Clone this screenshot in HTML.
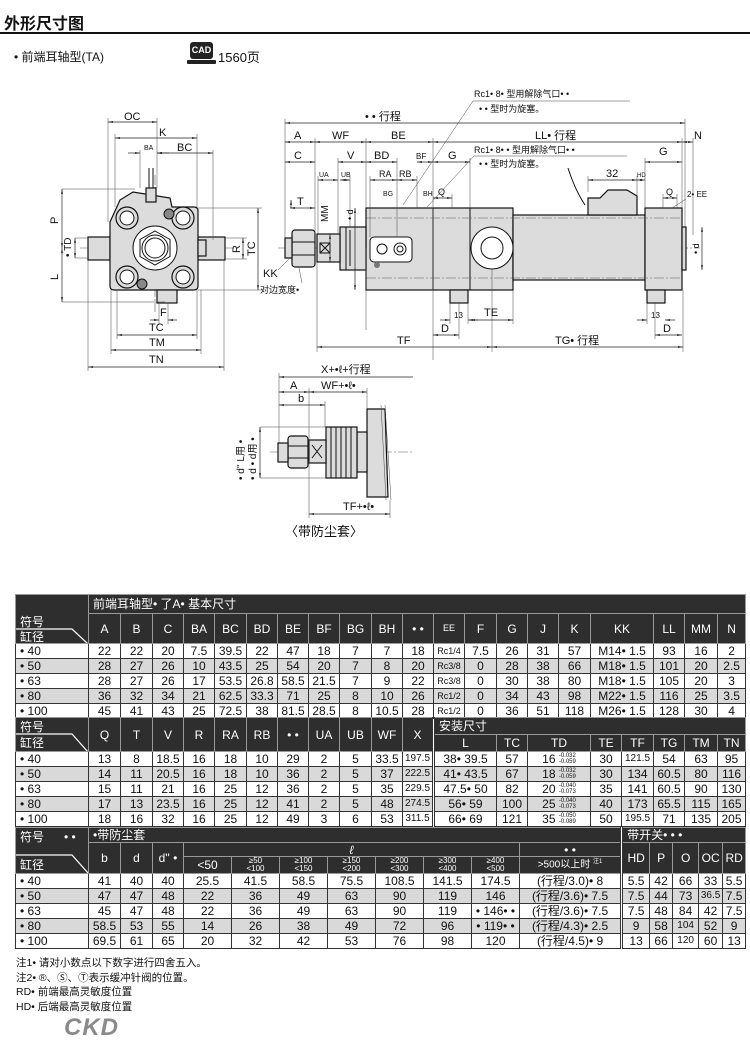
<!DOCTYPE html>
<html><head><meta charset="utf-8">
<style>
body{margin:0;width:750px;height:1053px;background:#fff;position:relative;overflow:hidden;font-family:"Liberation Sans","Noto Sans CJK SC",sans-serif;color:#111}
svg{position:absolute;left:0;top:0}
.t{position:absolute;white-space:nowrap}
table{position:absolute;left:15px;width:730px;border-collapse:collapse;table-layout:fixed;font-size:12px;font-family:"Liberation Sans","Noto Sans CJK SC",sans-serif}
td{padding:0;text-align:center;border:1px solid #333;overflow:hidden;white-space:nowrap;line-height:1}
td.h{background:#2e2e2e;color:#fff;border-color:#999}
td.l{text-align:left;padding-left:4px}
tr.g td{background:#d9d9d9}
tr.r td{height:14px}
td.lab{position:relative;background:#2e2e2e;color:#fff;border-color:#999}
td.lab i{font-style:normal;position:absolute;left:4px;font-size:12px}
td.lab svg{position:absolute;left:0;top:0}
.dl{border-left:3px double #333!important}
.tol{display:inline-block;font-size:6px;line-height:6px;vertical-align:middle;text-align:left}
.sm{font-size:8px;line-height:8px}
</style></head><body>

<div class="t" style="left:4px;top:10px;font-size:16px;font-weight:bold">外形尺寸图</div>
<div style="position:absolute;left:0;top:32px;width:750px;height:2px;background:#111"></div>
<div class="t" style="left:14px;top:48px;font-size:12px">• 前端耳轴型(TA)</div>
<div style="position:absolute;left:190px;top:42px;width:23px;height:17px;background:#222;border-radius:3px;color:#fff;font-size:9px;font-weight:bold;text-align:center;line-height:17px">CAD</div>
<div style="position:absolute;left:187px;top:60px;width:29px;height:4px;background:#222;border-radius:1px"></div>
<div class="t" style="left:218px;top:47px;font-size:13px">1560页</div>

<svg width="750" height="590" viewBox="0 0 750 590" font-family="Liberation Sans, Noto Sans CJK SC, sans-serif" font-size="11">
<defs>
<marker id="a" viewBox="0 0 10 10" refX="10" refY="5" markerWidth="7" markerHeight="7" orient="auto-start-reverse"><path d="M0,3L10,5L0,7z" fill="#222"/></marker>
</defs>
<style>
.d{stroke:#222;stroke-width:.7;marker-start:url(#a);marker-end:url(#a);fill:none}
.e{stroke:#444;stroke-width:.5;fill:none}
.c{stroke:#555;stroke-width:.6;stroke-dasharray:10 2 2 2;fill:none}
.b{stroke:#111;stroke-width:1.2;fill:#dcdcdc}
.w{stroke:#111;stroke-width:1;fill:#fff}
.k{stroke:#111;stroke-width:1;fill:none}
text{fill:#111}
</style>

<!-- FRONT VIEW -->
<line class="c" x1="80" y1="248" x2="235" y2="248"/>
<line class="c" x1="155" y1="175" x2="155" y2="312"/>
<rect class="b" x="88" y="237" width="22" height="23"/>
<rect class="b" x="198" y="237" width="27" height="23"/>
<path class="b" d="M110,222 L120,200 L133,192 L170,198 L172,207 L194,207 Q198,207 198,211 L198,286 Q198,290 194,290 L114,290 Q110,290 110,286 Z"/>
<rect class="b" x="146" y="188" width="10" height="14"/>
<path class="k" d="M149,188 L149,168 M153,188 L153,168"/>
<rect class="b" x="157" y="290" width="20" height="13"/>
<rect class="b" x="198" y="240" width="8" height="16"/>
<circle class="w" cx="155" cy="248" r="22" fill="#dcdcdc"/>
<polygon class="k" points="155,231 170,239.5 170,256.5 155,265 140,256.5 140,239.5"/>
<circle class="w" cx="155" cy="248" r="13"/>
<circle class="k" cx="155" cy="248" r="10"/>
<g class="b"><circle cx="127" cy="218" r="11"/><circle cx="183" cy="218" r="11"/><circle cx="127" cy="277" r="11"/><circle cx="183" cy="277" r="11"/></g>
<g class="w"><circle cx="127" cy="218" r="7"/><circle cx="183" cy="218" r="7"/><circle cx="127" cy="277" r="7"/><circle cx="183" cy="277" r="7"/></g>
<circle cx="169" cy="214" r="5" fill="#888" stroke="#111"/>
<circle cx="142" cy="284" r="5" fill="#888" stroke="#111"/>
<!-- front dims -->
<path class="e" d="M108,118 V222 M157,118 V188 M115,134 V207 M197,134 V207 M140,150 V188 M213,150 V240 M62,189 H135 M62,302 H165 M198,208 H262 M198,290 H262 M225,238 H247 M225,259 H247 M117,290 V339 M197,290 V339 M111,290 V354 M201,290 V354 M88,260 V371 M224,260 V371 M159,303 V324 M168,303 V324 M75,238 H88 M75,258 H88"/>
<line class="d" x1="108" y1="122" x2="157" y2="122"/><text x="124" y="120">OC</text>
<line class="d" x1="115" y1="138" x2="197" y2="138"/><text x="159" y="136">K</text>
<line class="d" x1="128" y1="153" x2="140" y2="153" style="marker-start:none"/><line class="d" x1="169" y1="153" x2="157" y2="153" style="marker-start:none"/>
<text x="144" y="150" font-size="7">BA</text>
<line class="d" x1="157" y1="153" x2="213" y2="153"/><text x="177" y="151">BC</text>
<line class="d" x1="62" y1="189" x2="62" y2="248"/><text transform="translate(58,224) rotate(-90)">P</text>
<line class="d" x1="62" y1="248" x2="62" y2="302"/><text transform="translate(58,280) rotate(-90)">L</text>
<line class="d" x1="75" y1="238" x2="75" y2="258"/><text transform="translate(71,257) rotate(-90)" font-size="10">• TD</text>
<line class="d" x1="243" y1="238" x2="243" y2="259"/><text transform="translate(240,253) rotate(-90)">R</text>
<line class="d" x1="258" y1="208" x2="258" y2="290"/><text transform="translate(255,256) rotate(-90)">TC</text>
<line class="d" x1="150" y1="320" x2="159" y2="320" style="marker-start:none"/><line class="d" x1="177" y1="320" x2="168" y2="320" style="marker-start:none"/><text x="160" y="316">F</text>
<line class="d" x1="117" y1="335" x2="197" y2="335"/><text x="149" y="331">TC</text>
<line class="d" x1="111" y1="350" x2="201" y2="350"/><text x="149" y="346">TM</text>
<line class="d" x1="88" y1="367" x2="224" y2="367"/><text x="149" y="363">TN</text>

<!-- SIDE VIEW -->
<line class="c" x1="278" y1="248" x2="700" y2="248"/>
<rect class="b" x="366" y="208" width="147" height="82"/>
<line class="k" x1="433" y1="208" x2="433" y2="290"/>
<line class="k" x1="470" y1="208" x2="470" y2="290"/>
<rect class="b" x="513" y="215" width="132" height="65"/>
<rect class="b" x="645" y="208" width="37" height="82"/>
<rect class="b" x="682" y="227" width="4" height="43"/>
<path class="c" d="M366,218 H682 M366,278 H682"/>
<circle class="w" cx="492" cy="248" r="21" fill="#dcdcdc"/>
<circle class="w" cx="492" cy="248" r="11"/>
<path class="b" d="M588,215 V198 L600,198 L608,190 L627,190 L637,196 L637,215 Z"/>
<path class="k" d="M568,168 Q575,190 585,205" stroke-width="3"/>
<rect class="w" x="370" y="237" width="42" height="25" rx="4" fill="#dcdcdc"/>
<circle class="w" cx="382" cy="249" r="5"/><circle class="w" cx="400" cy="249" r="6"/><circle class="k" cx="400" cy="249" r="3"/>
<circle cx="377" cy="265" r="3" fill="#777"/>
<rect class="b" x="450" y="290" width="18" height="13"/>
<rect class="b" x="647" y="290" width="18" height="13"/>
<rect class="b" x="340" y="227" width="26" height="43"/>
<path class="k" d="M346,227 V270 M350,230 V266"/>
<rect class="b" x="317" y="234" width="23" height="28"/>
<path class="k" d="M320,243 L330,253 M330,243 L320,253 M320,243 H330 V253 H320 Z"/>
<rect class="b" x="292" y="230" width="23" height="37" rx="3"/>
<path class="k" d="M292,242 H315 M292,255 H315"/>
<rect class="b" x="285" y="238" width="7" height="20"/>
<!-- side dims -->
<path class="e" d="M285,119 V238 M685,119 V227 M315,138 V234 M366,138 V208 M433,138 V360 M682,138 V208 M693,138 V235 M338,158 V234 M397,158 V237 M417,176 V208 M470,158 V208 M645,158 V208 M318,176 V234 M350,176 V227 M370,176 V237 M588,176 V192 M637,176 V196 M452,194 V208 M663,194 V208 M677,194 V208 M450,303 V324 M468,303 V324 M459,303 V339 M513,290 V324 M655,303 V339 M647,303 V324 M317,262 V352 M492,269 V352 M683,290 V352 M366,248 V330"/>
<line class="d" x1="285" y1="123" x2="685" y2="123"/><text x="365" y="120">• • 行程</text>
<line class="d" x1="285" y1="142" x2="315" y2="142"/><text x="294" y="139">A</text>
<line class="d" x1="315" y1="142" x2="366" y2="142"/><text x="332" y="139">WF</text>
<line class="d" x1="366" y1="142" x2="433" y2="142"/><text x="391" y="139">BE</text>
<line class="d" x1="433" y1="142" x2="682" y2="142"/><text x="535" y="139">LL• 行程</text>
<line class="d" x1="682" y1="142" x2="693" y2="142"/><text x="694" y="139">N</text>
<line class="d" x1="285" y1="162" x2="315" y2="162"/><text x="294" y="159">C</text>
<line class="d" x1="338" y1="162" x2="366" y2="162"/><text x="347" y="159">V</text>
<line class="d" x1="366" y1="162" x2="397" y2="162"/><text x="374" y="159">BD</text>
<line class="d" x1="417" y1="162" x2="433" y2="162"/><text x="416" y="159" font-size="8">BF</text>
<line class="d" x1="433" y1="162" x2="470" y2="162"/><text x="448" y="159">G</text>
<line class="d" x1="645" y1="162" x2="682" y2="162"/><text x="659" y="155">G</text>
<line class="d" x1="318" y1="180" x2="338" y2="180"/><text x="319" y="177" font-size="7">UA</text>
<line class="d" x1="340" y1="180" x2="350" y2="180"/><text x="341" y="177" font-size="7">UB</text>
<line class="d" x1="370" y1="180" x2="397" y2="180"/><text x="379" y="177" font-size="9">RA</text>
<line class="d" x1="397" y1="180" x2="417" y2="180"/><text x="399" y="177" font-size="9">RB</text>
<line class="d" x1="588" y1="180" x2="637" y2="180"/><text x="606" y="177">32</text>
<line class="d" x1="637" y1="180" x2="645" y2="180"/><text x="637" y="177" font-size="6">HD</text>
<line class="d" x1="433" y1="198" x2="452" y2="198"/><text x="438" y="195" font-size="9">Q</text>
<line class="d" x1="663" y1="198" x2="677" y2="198"/><text x="666" y="195" font-size="9">Q</text>
<text x="687" y="197" font-size="8">2• EE</text>
<line class="e" x1="686" y1="199" x2="672" y2="208"/>
<text x="383" y="196" font-size="7">BG</text><text x="423" y="196" font-size="7">BH</text>
<line class="d" x1="291" y1="208" x2="291" y2="200" style="marker-start:none"/>
<line class="d" x1="290" y1="208" x2="315" y2="208"/><text x="297" y="205">T</text>
<line class="d" x1="330" y1="234" x2="330" y2="262"/><text transform="translate(328,222) rotate(-90)" font-size="10">MM</text>
<line class="d" x1="355" y1="208" x2="355" y2="290"/><text transform="translate(353,220) rotate(-90)" font-size="9">• d</text>
<line class="d" x1="702" y1="227" x2="702" y2="270"/><text transform="translate(699,254) rotate(-90)" font-size="9">• d</text>
<line class="d" x1="433" y1="335" x2="459" y2="335"/><text x="441" y="332">D</text>
<line class="d" x1="655" y1="335" x2="682" y2="335"/><text x="663" y="332">D</text>
<line class="d" x1="440" y1="320" x2="450" y2="320" style="marker-start:none"/><line class="d" x1="478" y1="320" x2="468" y2="320" style="marker-start:none"/><text x="454" y="318" font-size="8">13</text>
<line class="d" x1="637" y1="320" x2="647" y2="320" style="marker-start:none"/><line class="d" x1="675" y1="320" x2="665" y2="320" style="marker-start:none"/><text x="651" y="318" font-size="8">13</text>
<line class="d" x1="470" y1="320" x2="513" y2="320"/><text x="484" y="316">TE</text>
<line class="d" x1="317" y1="347" x2="492" y2="347"/><text x="397" y="344">TF</text>
<line class="d" x1="492" y1="347" x2="683" y2="347"/><text x="555" y="344">TG• 行程</text>
<text x="474" y="97" font-size="9">Rc1• 8• 型用解除气口• •</text>
<text x="479" y="112" font-size="9">• • 型时为旋塞。</text>
<path class="e" d="M473,101 H630 M473,101 L403,205"/>
<text x="474" y="153" font-size="9">Rc1• 8• • 型用解除气口• •</text>
<text x="479" y="167" font-size="9">• • 型时为旋塞。</text>
<path class="e" d="M474,156 H627 M474,156 L427,207"/>
<text x="263" y="277">KK</text>
<path class="e" d="M278,270 L290,258 M299,268 L302,283"/>
<text x="260" y="293" font-size="9">对边宽度•</text>

<!-- BOTTOM DETAIL -->
<line class="c" x1="270" y1="452" x2="412" y2="452"/>
<path class="b" d="M367,409 H385 L388,497 H367 Z"/>
<path class="e" d="M381,405 L386,500 M385,405 L391,500"/>
<rect class="b" x="357" y="432" width="10" height="40"/>
<rect class="b" x="326" y="427" width="31" height="51"/>
<path class="k" d="M331,427 V478 M336,427 V478 M341,427 V478 M346,427 V478 M351,427 V478"/>
<rect class="b" x="309" y="440" width="17" height="23"/>
<path class="k" d="M312,445 L322,458 M322,445 L312,458"/>
<rect class="b" x="288" y="436" width="20" height="32" rx="3"/>
<path class="k" d="M288,446 H308 M288,458 H308"/>
<rect class="b" x="278" y="443" width="10" height="19"/>
<path class="e" d="M279,373 V443 M309,388 V518 M367,388 V409 M325,401 V427 M260,427 H326 M260,478 H326 M390,500 V518"/>
<line class="d" x1="279" y1="377" x2="413" y2="377" style="marker-end:none"/><text x="321" y="373">X+•ℓ+行程</text>
<line class="d" x1="279" y1="392" x2="309" y2="392"/><text x="290" y="389">A</text>
<line class="d" x1="309" y1="392" x2="367" y2="392"/><text x="321" y="389">WF+•ℓ•</text>
<line class="d" x1="279" y1="405" x2="325" y2="405"/><text x="298" y="402">b</text>
<line class="d" x1="260" y1="427" x2="260" y2="478"/>
<text transform="translate(256,480) rotate(-90)" font-size="10">• d • d用 •</text>
<text transform="translate(244,480) rotate(-90)" font-size="10">• d'' L用 •</text>
<line class="d" x1="309" y1="514" x2="390" y2="514"/><text x="343" y="510">TF+•ℓ•</text>
<text x="285" y="536" font-size="13">〈带防尘套〉</text>
</svg>

<!-- TABLE 1 -->
<table style="top:594px">
<colgroup><col style="width:73px"><col style="width:32px"><col style="width:32px"><col style="width:31px"><col style="width:31px"><col style="width:32px"><col style="width:31px"><col style="width:31px"><col style="width:31px"><col style="width:32px"><col style="width:31px"><col style="width:31px"><col style="width:31px"><col style="width:32px"><col style="width:31px"><col style="width:31px"><col style="width:32px"><col style="width:63px"><col style="width:31px"><col style="width:33px"><col style="width:28px"></colgroup>
<tr style="height:19px"><td class="lab" rowspan="2"><i style="top:21px">符号</i><i style="top:36px">缸径</i><svg width="73" height="50"><path d="M0,34 H56 L72,49" stroke="#fff" stroke-width="1.2" fill="none"/></svg></td><td class="h l" colspan="20">前端耳轴型• 了A• 基本尺寸</td></tr>
<tr style="height:30px"><td class="h">A</td><td class="h">B</td><td class="h">C</td><td class="h">BA</td><td class="h">BC</td><td class="h">BD</td><td class="h">BE</td><td class="h">BF</td><td class="h">BG</td><td class="h">BH</td><td class="h">• •</td><td class="h" style="font-size:9px">EE</td><td class="h">F</td><td class="h">G</td><td class="h">J</td><td class="h">K</td><td class="h">KK</td><td class="h">LL</td><td class="h">MM</td><td class="h">N</td></tr>
<tr class="r"><td class="l">• 40</td><td>22</td><td>22</td><td>20</td><td>7.5</td><td>39.5</td><td>22</td><td>47</td><td>18</td><td>7</td><td>7</td><td>18</td><td style="font-size:9px">Rc1/4</td><td>7.5</td><td>26</td><td>31</td><td>57</td><td>M14• 1.5</td><td>93</td><td>16</td><td>2</td></tr>
<tr class="r g"><td class="l">• 50</td><td>28</td><td>27</td><td>26</td><td>10</td><td>43.5</td><td>25</td><td>54</td><td>20</td><td>7</td><td>8</td><td>20</td><td style="font-size:9px">Rc3/8</td><td>0</td><td>28</td><td>38</td><td>66</td><td>M18• 1.5</td><td>101</td><td>20</td><td>2.5</td></tr>
<tr class="r"><td class="l">• 63</td><td>28</td><td>27</td><td>26</td><td>17</td><td>53.5</td><td>26.8</td><td>58.5</td><td>21.5</td><td>7</td><td>9</td><td>22</td><td style="font-size:9px">Rc3/8</td><td>0</td><td>30</td><td>38</td><td>80</td><td>M18• 1.5</td><td>105</td><td>20</td><td>3</td></tr>
<tr class="r g"><td class="l">• 80</td><td>36</td><td>32</td><td>34</td><td>21</td><td>62.5</td><td>33.3</td><td>71</td><td>25</td><td>8</td><td>10</td><td>26</td><td style="font-size:9px">Rc1/2</td><td>0</td><td>34</td><td>43</td><td>98</td><td>M22• 1.5</td><td>116</td><td>25</td><td>3.5</td></tr>
<tr class="r"><td class="l">• 100</td><td>45</td><td>41</td><td>43</td><td>25</td><td>72.5</td><td>38</td><td>81.5</td><td>28.5</td><td>8</td><td>10.5</td><td>28</td><td style="font-size:9px">Rc1/2</td><td>0</td><td>36</td><td>51</td><td>118</td><td>M26• 1.5</td><td>128</td><td>30</td><td>4</td></tr>
</table>

<!-- TABLE 2 -->
<table style="top:717px">
<colgroup><col style="width:73px"><col style="width:32px"><col style="width:32px"><col style="width:31px"><col style="width:31px"><col style="width:32px"><col style="width:31px"><col style="width:31px"><col style="width:31px"><col style="width:32px"><col style="width:31px"><col style="width:31px"><col style="width:63px"><col style="width:31px"><col style="width:63px"><col style="width:31px"><col style="width:32px"><col style="width:31px"><col style="width:33px"><col style="width:28px"></colgroup>
<tr style="height:17px"><td class="lab" rowspan="2"><i style="top:3px">符号</i><i style="top:19px">缸径</i><svg width="73" height="36"><path d="M0,16 H56 L72,34" stroke="#fff" stroke-width="1.2" fill="none"/></svg></td><td class="h" rowspan="2">Q</td><td class="h" rowspan="2">T</td><td class="h" rowspan="2">V</td><td class="h" rowspan="2">R</td><td class="h" rowspan="2">RA</td><td class="h" rowspan="2">RB</td><td class="h" rowspan="2">• •</td><td class="h" rowspan="2">UA</td><td class="h" rowspan="2">UB</td><td class="h" rowspan="2">WF</td><td class="h" rowspan="2">X</td><td class="h l dl" colspan="8">安装尺寸</td></tr>
<tr style="height:17px"><td class="h dl">L</td><td class="h">TC</td><td class="h">TD</td><td class="h">TE</td><td class="h">TF</td><td class="h">TG</td><td class="h">TM</td><td class="h">TN</td></tr>
<tr class="r"><td class="l">• 40</td><td>13</td><td>8</td><td>18.5</td><td>16</td><td>18</td><td>10</td><td>29</td><td>2</td><td>5</td><td>33.5</td><td style="font-size:10px">197.5</td><td class="dl">38• 39.5</td><td>57</td><td>16 <span class="tol">-0.032<br>-0.059</span></td><td>30</td><td style="font-size:10px">121.5</td><td>54</td><td>63</td><td>95</td></tr>
<tr class="r g"><td class="l">• 50</td><td>14</td><td>11</td><td>20.5</td><td>16</td><td>18</td><td>10</td><td>36</td><td>2</td><td>5</td><td>37</td><td style="font-size:10px">222.5</td><td class="dl">41• 43.5</td><td>67</td><td>18 <span class="tol">-0.032<br>-0.059</span></td><td>30</td><td>134</td><td>60.5</td><td>80</td><td>116</td></tr>
<tr class="r"><td class="l">• 63</td><td>15</td><td>11</td><td>21</td><td>16</td><td>25</td><td>12</td><td>36</td><td>2</td><td>5</td><td>35</td><td style="font-size:10px">229.5</td><td class="dl">47.5• 50</td><td>82</td><td>20 <span class="tol">-0.040<br>-0.073</span></td><td>35</td><td>141</td><td>60.5</td><td>90</td><td>130</td></tr>
<tr class="r g"><td class="l">• 80</td><td>17</td><td>13</td><td>23.5</td><td>16</td><td>25</td><td>12</td><td>41</td><td>2</td><td>5</td><td>48</td><td style="font-size:10px">274.5</td><td class="dl">56• 59</td><td>100</td><td>25 <span class="tol">-0.040<br>-0.073</span></td><td>40</td><td>173</td><td>65.5</td><td>115</td><td>165</td></tr>
<tr class="r"><td class="l">• 100</td><td>18</td><td>16</td><td>32</td><td>16</td><td>25</td><td>12</td><td>49</td><td>3</td><td>6</td><td>53</td><td style="font-size:10px">311.5</td><td class="dl">66• 69</td><td>121</td><td>35 <span class="tol">-0.050<br>-0.089</span></td><td>50</td><td style="font-size:10px">195.5</td><td>71</td><td>135</td><td>205</td></tr>
</table>

<!-- TABLE 3 -->
<table style="top:827px">
<colgroup><col style="width:73px"><col style="width:32px"><col style="width:32px"><col style="width:31px"><col style="width:48px"><col style="width:48px"><col style="width:48px"><col style="width:48px"><col style="width:48px"><col style="width:48px"><col style="width:48px"><col style="width:102px"><col style="width:28px"><col style="width:23px"><col style="width:26px"><col style="width:24px"><col style="width:23px"></colgroup>
<tr style="height:15px"><td class="lab" rowspan="3"><i style="top:3px">符号 &nbsp;&nbsp;&nbsp;&nbsp;&nbsp;• •</i><i style="top:31px">缸径</i><svg width="73" height="46"><path d="M0,27 H56 L72,45" stroke="#fff" stroke-width="1.2" fill="none"/></svg></td><td class="h l" colspan="11">•带防尘套</td><td class="h l dl" colspan="5">带开关• • •</td></tr>
<tr style="height:14px"><td class="h" rowspan="2">b</td><td class="h" rowspan="2">d</td><td class="h" rowspan="2">d'' •</td><td class="h" colspan="7"><i>ℓ</i></td><td class="h">• •</td><td class="h dl" rowspan="2">HD</td><td class="h" rowspan="2">P</td><td class="h" rowspan="2">O</td><td class="h" rowspan="2">OC</td><td class="h" rowspan="2">RD</td></tr>
<tr style="height:16px"><td class="h">&lt;50</td><td class="h sm">≥50<br>&lt;100</td><td class="h sm">≥100<br>&lt;150</td><td class="h sm">≥150<br>&lt;200</td><td class="h sm">≥200<br>&lt;300</td><td class="h sm">≥300<br>&lt;400</td><td class="h sm">≥400<br>&lt;500</td><td class="h" style="font-size:10px">&gt;500以上时 <sup style="font-size:6px">注1</sup></td></tr>
<tr class="r"><td class="l">• 40</td><td>41</td><td>40</td><td>40</td><td>25.5</td><td>41.5</td><td>58.5</td><td>75.5</td><td>108.5</td><td>141.5</td><td>174.5</td><td>(行程/3.0)• 8</td><td class="dl">5.5</td><td>42</td><td>66</td><td>33</td><td>5.5</td></tr>
<tr class="r g"><td class="l">• 50</td><td>47</td><td>47</td><td>48</td><td>22</td><td>36</td><td>49</td><td>63</td><td>90</td><td>119</td><td>146</td><td>(行程/3.6)• 7.5</td><td class="dl">7.5</td><td>44</td><td>73</td><td style="font-size:10px">36.5</td><td>7.5</td></tr>
<tr class="r"><td class="l">• 63</td><td>45</td><td>47</td><td>48</td><td>22</td><td>36</td><td>49</td><td>63</td><td>90</td><td>119</td><td>• 146• •</td><td>(行程/3.6)• 7.5</td><td class="dl">7.5</td><td>48</td><td>84</td><td>42</td><td>7.5</td></tr>
<tr class="r g"><td class="l">• 80</td><td>58.5</td><td>53</td><td>55</td><td>14</td><td>26</td><td>38</td><td>49</td><td>72</td><td>96</td><td>• 119• •</td><td>(行程/4.3)• 2.5</td><td class="dl">9</td><td>58</td><td style="font-size:10px">104</td><td>52</td><td>9</td></tr>
<tr class="r"><td class="l">• 100</td><td>69.5</td><td>61</td><td>65</td><td>20</td><td>32</td><td>42</td><td>53</td><td>76</td><td>98</td><td>120</td><td>(行程/4.5)• 9</td><td class="dl">13</td><td>66</td><td style="font-size:10px">120</td><td>60</td><td>13</td></tr>
</table>

<div class="t" style="left:16px;top:956px;font-size:10.5px;line-height:14.5px">注1• 请对小数点以下数字进行四舍五入。<br>注2• ®、Ⓢ、Ⓣ表示缓冲针阀的位置。<br>RD• 前端最高灵敏度位置<br>HD• 后端最高灵敏度位置</div>
<div class="t" style="left:64px;top:1014px;font-size:24px;font-weight:bold;font-style:italic;color:#8a8a8a;letter-spacing:1px">CKD</div>
</body></html>
